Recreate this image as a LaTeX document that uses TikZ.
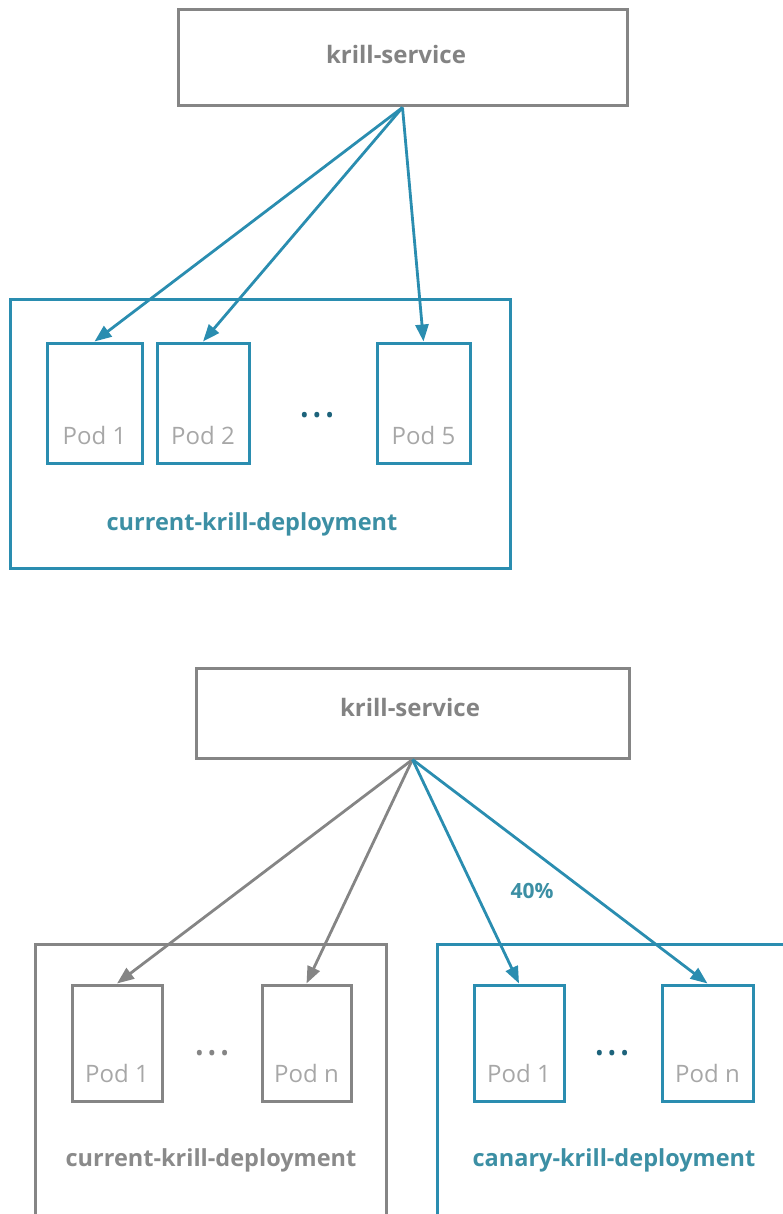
\documentclass[tikz,border=0pt]{standalone}
\usepackage{fontspec}
\setmainfont{Open Sans}
\usetikzlibrary{arrows.meta}
\definecolor{kteal}{HTML}{2A8DB0}
\definecolor{kgray}{HTML}{858585}
\definecolor{ktext}{HTML}{8A8A8A}
\definecolor{kteallabel}{HTML}{3C8FA4}
\begin{document}
\begin{tikzpicture}[x=1pt,y=-1pt,
  box/.style={draw, line width=3pt, inner sep=0pt},
  svc/.style={box, draw=kgray},
  tealbox/.style={box, draw=kteal},
  graybox/.style={box, draw=kgray},
  podtxt/.style={font=\fontsize{24}{28}\selectfont, text=ktext!75},
  deptxt/.style={font=\fontsize{23.5}{28}\selectfont\bfseries},
  svctxt/.style={font=\fontsize{24}{28}\selectfont\bfseries, text=ktext!95!black},
  dots/.style={font=\fontsize{23}{24}\selectfont},
  tarr/.style={draw=kteal, line width=2.8pt, -{Triangle[length=17pt,width=13pt]}, fill=kteal},
  garr/.style={draw=kgray, line width=2.8pt, -{Triangle[length=17pt,width=13pt]}, fill=kgray}
]
\useasboundingbox (0,0) rectangle (783,1214);
% ---------- top diagram ----------
\node[svc, minimum width=449pt, minimum height=96pt] (ks1) at (402.5,58) {};
\node[svctxt] (ks1t) at (396,55) {krill-service};
\node[tealbox, minimum width=500pt, minimum height=268pt] (dep1) at (260,434) {};
\node[tealbox, minimum width=95pt, minimum height=120pt] (a1) at (94.5,403) {};
\node[tealbox, minimum width=92pt, minimum height=120pt] (a2) at (203,403) {};
\node[tealbox, minimum width=93pt, minimum height=120pt] (a5) at (423.5,403) {};
\node[podtxt] (a1t) at (94.5,435) {Pod 1};
\node[podtxt] (a2t) at (203,435) {Pod 2};
\node[podtxt] (a5t) at (423.5,435) {Pod 5};
\node[dots, text=kteal!70!black] (adots) at (317,418) {•\kern4pt•\kern4pt•};
\node[deptxt, text=kteallabel] (dep1t) at (252,524) {current-krill-deployment};
\draw[tarr] (ks1.south) -- (a1.north);
\draw[tarr] (ks1.south) -- (a2.north);
\draw[tarr] (ks1.south) -- (a5.north);
% ---------- bottom diagram ----------
\node[svc, minimum width=433pt, minimum height=90pt] (ks2) at (412.5,713) {};
\node[svctxt] (ks2t) at (410,707) {krill-service};
\node[graybox, minimum width=351pt, minimum height=290pt] (dep2) at (210.5,1089) {};
\node[tealbox, minimum width=350pt, minimum height=290pt] (dep3) at (612,1089) {};
\node[graybox, minimum width=90pt, minimum height=116pt] (b1) at (117,1043) {};
\node[graybox, minimum width=89pt, minimum height=116pt] (bn) at (306.5,1043) {};
\node[tealbox, minimum width=90pt, minimum height=116pt] (c1) at (519,1043) {};
\node[tealbox, minimum width=91pt, minimum height=116pt] (cn) at (707.5,1043) {};
\node[podtxt] (b1t) at (117,1073) {Pod 1};
\node[podtxt] (bnt) at (306.5,1073) {Pod n};
\node[podtxt] (c1t) at (519,1073) {Pod 1};
\node[podtxt] (cnt) at (707.5,1073) {Pod n};
\node[dots, text=kgray] (bdots) at (212,1056) {•\kern4pt•\kern4pt•};
\node[dots, text=kteal!70!black] (cdots) at (612,1056) {•\kern4pt•\kern4pt•};
\node[deptxt, text=ktext] (dep2t) at (211,1160) {current-krill-deployment};
\node[deptxt, text=kteallabel] (dep3t) at (614,1160) {canary-krill-deployment};
\draw[garr] (ks2.south) -- (b1.north);
\draw[garr] (ks2.south) -- (bn.north);
\draw[tarr] (ks2.south) -- (c1.north);
\draw[tarr] (ks2.south) -- (cn.north);
\node[font=\fontsize{21}{24}\selectfont\bfseries, text=kteallabel] (pct) at (532,891) {40\%};
\end{tikzpicture}
\end{document}
